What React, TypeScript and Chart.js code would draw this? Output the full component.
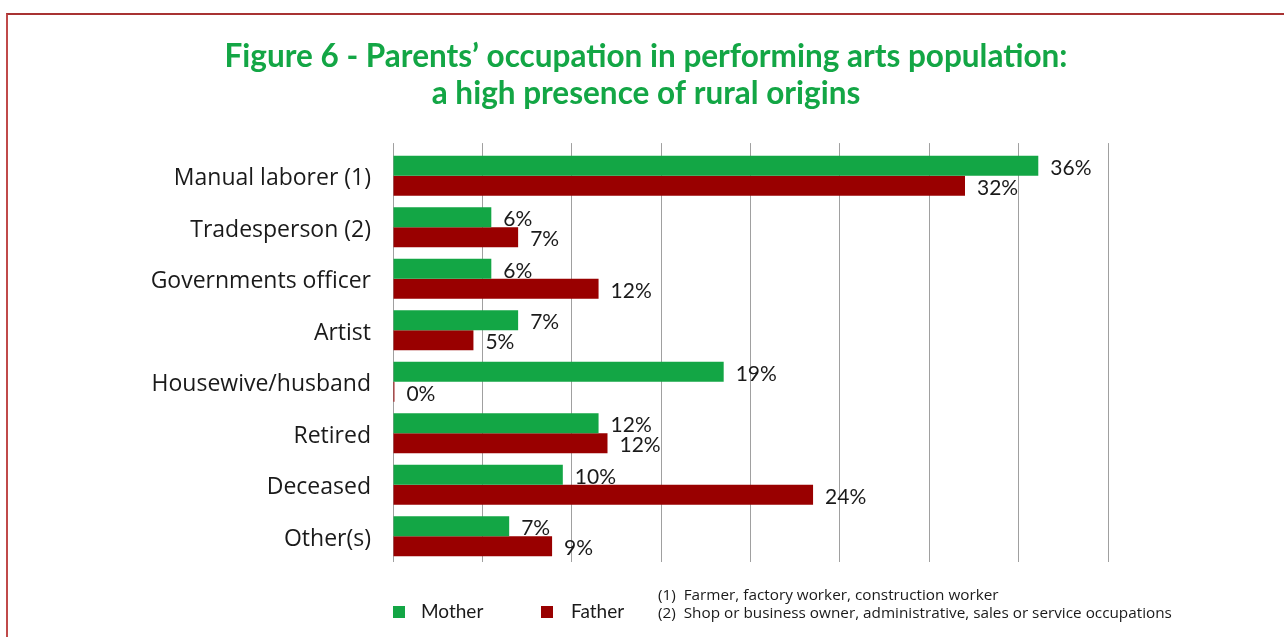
import React, { useEffect, useRef } from "react";
import { Chart, registerables } from "chart.js";

Chart.register(...registerables);

const categories = [
  "Manual laborer (1)",
  "Tradesperson (2)",
  "Governments officer",
  "Artist",
  "Housewive/husband",
  "Retired",
  "Deceased",
  "Other(s)",
];
const motherValues = [36.1, 5.5, 5.5, 7.0, 18.5, 11.5, 9.5, 6.5];
const fatherValues = [32.0, 7.0, 11.5, 4.5, 0.08, 12.0, 23.5, 8.9];
const seriesNames = ["Mother", "Father"];
const titleLines = [
  "Figure 6 - Parents’ occupation in performing arts population:",
  "a high presence of rural origins",
];
const footnotes = [
  "(1)  Farmer, factory worker, construction worker",
  "(2)  Shop or business owner, administrative, sales or service occupations",
];
const axisMax = 40;
const axisStep = 5;

const GREEN = "#13a645";
const RED = "#990000";
const TEXT = "#1a1a1a";
const FONT = "Lato, 'Open Sans', sans-serif";
const FONT2 = "'Open Sans', Lato, sans-serif";

const valueLabels = {
  id: "valueLabels",
  afterDatasetsDraw(chart: any) {
    const ctx = chart.ctx;
    ctx.save();
    ctx.font = `21px ${FONT}`;
    ctx.fillStyle = TEXT;
    ctx.textAlign = "left";
    ctx.textBaseline = "middle";
    chart.data.datasets.forEach((ds: any, i: number) => {
      const meta = chart.getDatasetMeta(i);
      meta.data.forEach((bar: any, j: number) => {
        const v = ds.data[j] as number;
        ctx.fillText(Math.round(v) + "%", bar.x + 12, bar.y + 2);
      });
    });
    ctx.restore();
  },
};

const bottomLegend = {
  id: "bottomLegend",
  afterDraw(chart: any) {
    const ctx = chart.ctx;
    const { left, bottom } = chart.chartArea;
    ctx.save();
    ctx.textAlign = "left";
    ctx.textBaseline = "middle";
    chart.data.datasets.forEach((ds: any, i: number) => {
      const x = left + i * 148;
      ctx.fillStyle = ds.backgroundColor;
      ctx.fillRect(x, bottom + 44, 12, 12);
      ctx.fillStyle = TEXT;
      ctx.font = `19px ${FONT}`;
      ctx.fillText(ds.label, x + 28 + i * 2, bottom + 50);
    });
    ctx.font = `15.3px ${FONT2}`;
    footnotes.forEach((t, i) => {
      ctx.fillText(t, left + 265, bottom + 34 + i * 18);
    });
    ctx.restore();
  },
};

export default function App() {
  const ref = useRef<HTMLCanvasElement | null>(null);

  useEffect(() => {
    if (!ref.current) return;
    const chart = new Chart(ref.current, {
      type: "bar",
      data: {
        labels: categories,
        datasets: [
          {
            label: seriesNames[0],
            data: motherValues,
            backgroundColor: GREEN,
            borderWidth: 0,
            categoryPercentage: 0.775,
            barPercentage: 1,
          },
          {
            label: seriesNames[1],
            data: fatherValues,
            backgroundColor: RED,
            borderWidth: 0,
            categoryPercentage: 0.775,
            barPercentage: 1,
          },
        ],
      },
      options: {
        indexAxis: "y",
        animation: false,
        responsive: false,
        maintainAspectRatio: false,
        layout: { padding: { left: 8, right: 0, top: 0, bottom: 75 } },
        plugins: {
          legend: { display: false },
          tooltip: { enabled: false },
          title: {
            display: true,
            text: titleLines,
            color: GREEN,
            font: { family: FONT, size: 31.5, weight: "bold", lineHeight: 1.16 },
            padding: { top: 39, bottom: 31 },
          },
        },
        scales: {
          x: {
            position: "top",
            min: 0,
            max: axisMax,
            ticks: { display: false, stepSize: axisStep },
            grid: {
              color: "#a0a0a0",
              lineWidth: 1,
              drawTicks: true,
              tickLength: 7,
            },
            border: { display: false },
          },
          y: {
            grid: { display: false },
            border: { display: false },
            ticks: {
              color: TEXT,
              font: { family: FONT2, size: 23 },
              padding: 14,
              labelOffset: 3,
            },
            afterFit(scale: any) {
              scale.width = 385;
            },
          },
          y2: {
            type: "category",
            position: "right",
            display: true,
            grid: { display: false },
            border: { display: false },
            ticks: { display: false },
            afterFit(scale: any) {
              scale.width = 176;
            },
          },
        },
      },
      plugins: [valueLabels, bottomLegend],
    });
    return () => chart.destroy();
  }, []);

  return (
    <div
      style={{
        position: "fixed",
        left: 0,
        top: 0,
        width: 1284,
        height: 637,
        background: "#ffffff",
        overflow: "hidden",
      }}
    >
      <div
        style={{
          position: "absolute",
          left: 6,
          top: 13,
          width: 1400,
          height: 800,
          borderTop: "2px solid #a83232",
          borderLeft: "2px solid #c04a4a",
        }}
      />
      <canvas
        ref={ref}
        width={1284}
        height={637}
        style={{ position: "absolute", left: 0, top: 0, width: 1284, height: 637 }}
      />
    </div>
  );
}
